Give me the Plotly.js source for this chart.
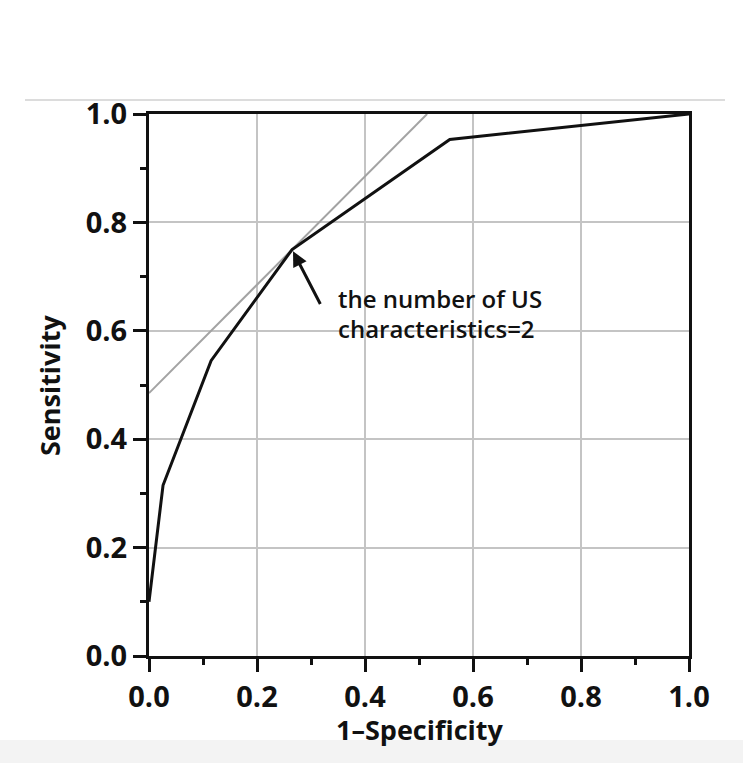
<!DOCTYPE html>
<html>
<head>
<meta charset="utf-8">
<script src="https://cdn.plot.ly/plotly-3.0.1.min.js"></script>
<style>html,body{margin:0;padding:0;background:#fff;}#chart{width:750px;height:763px;}</style>
</head>
<body>
<div id="chart"></div>
<script>
// ROC curve points (1-Specificity, Sensitivity)
var rocX = [0.0, 0.026, 0.115, 0.265, 0.557, 1.0];
var rocY = [0.10, 0.315, 0.545, 0.75, 0.953, 1.0];
// tangent reference line
var tanX = [0.0, 0.515];
var tanY = [0.485, 1.0];
var xTickVals = [0, 0.2, 0.4, 0.6, 0.8, 1.0];
var xTickText = ['0.0', '0.2', '0.4', '0.6', '0.8', '1.0'];
var yTickVals = [0, 0.2, 0.4, 0.6, 0.8, 1.0];
var yTickText = ['0.0', '0.2', '0.4', '0.6', '0.8', '1.0'];
var xTitle = '1–Specificity';
var yTitle = 'Sensitivity';
var annotLines = ['the number of US', 'characteristics=2'];
var cutPoint = {x: 0.265, y: 0.75};

var tickFont = {family: 'Open Sans', size: 29, color: '#111', weight: 700};
var titleFont = {family: 'Open Sans', size: 27, color: '#111', weight: 700};
var noteFont = {family: 'Open Sans', size: 24, color: '#111', weight: 600};

var traces = [
  {x: tanX, y: tanY, mode: 'lines', line: {color: '#a3a3a3', width: 2}, hoverinfo: 'skip', showlegend: false},
  {x: rocX, y: rocY, mode: 'lines', line: {color: '#111', width: 3}, showlegend: false}
];

var axisCommon = {
  range: [0, 1],
  showline: true, linecolor: '#111', linewidth: 3, mirror: true,
  showgrid: true, gridcolor: '#c4c4c4', gridwidth: 2,
  zeroline: false,
  ticks: 'outside', ticklen: 13, tickwidth: 3, tickcolor: '#111',
  tickmode: 'array',
  minor: {ticks: 'outside', ticklen: 6, tickwidth: 3, tickcolor: '#111', dtick: 0.1, tick0: 0, showgrid: false},
  tickfont: tickFont,
  fixedrange: true
};

var layout = {
  width: 750, height: 763,
  margin: {l: 149, r: 61, t: 114, b: 107},
  paper_bgcolor: '#fff', plot_bgcolor: '#fff',
  xaxis: Object.assign({}, axisCommon, {tickvals: xTickVals, ticktext: xTickText}),
  yaxis: Object.assign({}, axisCommon, {tickvals: yTickVals, ticktext: yTickText}),
  shapes: [
    {type: 'line', xref: 'paper', yref: 'paper', x0: -0.2296, x1: 1.0667, y0: 1.026, y1: 1.026,
     line: {color: '#dcdcdc', width: 2}, layer: 'below'},
    {type: 'rect', xref: 'paper', yref: 'paper', x0: -0.276, x1: 1.1, y0: -0.155, y1: -0.2,
     fillcolor: '#f3f3f3', line: {width: 0}, layer: 'below'}
  ],
  annotations: [
    {x: 0.5, y: -0.136, xref: 'paper', yref: 'paper', xanchor: 'center', yanchor: 'middle', showarrow: false,
     text: xTitle, font: titleFont},
    {x: -0.185, y: 0.5, xref: 'paper', yref: 'paper', xanchor: 'center', yanchor: 'middle', showarrow: false,
     text: yTitle, font: titleFont, textangle: -90},
    {x: cutPoint.x, y: cutPoint.y, xref: 'x', yref: 'y', ax: 29, ay: 56, axref: 'pixel', ayref: 'pixel',
     text: '', showarrow: true, arrowhead: 2, arrowsize: 1, arrowwidth: 3, arrowcolor: '#111', standoff: 2},
    {x: 0.346, y: 0.66, xref: 'x', yref: 'y', xanchor: 'left', yanchor: 'middle', showarrow: false,
     text: annotLines[0], font: noteFont},
    {x: 0.346, y: 0.605, xref: 'x', yref: 'y', xanchor: 'left', yanchor: 'middle', showarrow: false,
     text: annotLines[1], font: noteFont}
  ]
};

Plotly.newPlot('chart', traces, layout, {displayModeBar: false, staticPlot: true});
</script>
</body>
</html>
